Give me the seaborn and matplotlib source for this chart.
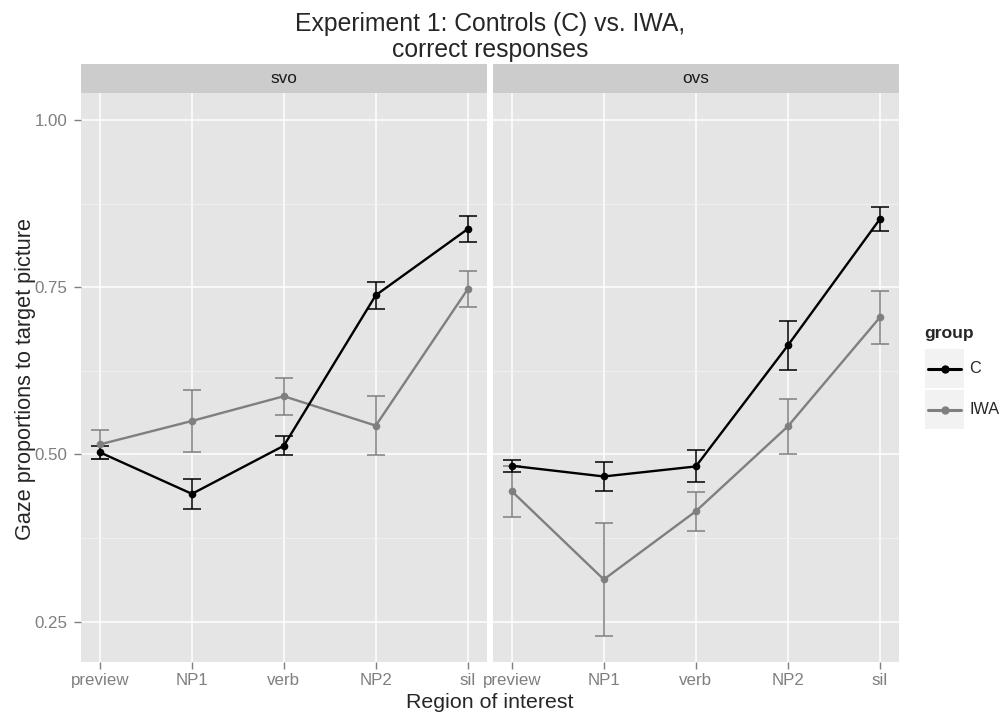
import numpy as np
import pandas as pd
import matplotlib
matplotlib.use("Agg")
import matplotlib.pyplot as plt
import seaborn as sns

# ── data (mean gaze proportion and half error bar)
regions = ["preview", "NP1", "verb", "NP2", "sil"]
conditions = ["svo", "ovs"]
groups = ["C", "IWA"]

svo_c_mean = [0.503, 0.441, 0.513, 0.738, 0.837]
svo_c_se = [0.010, 0.022, 0.014, 0.020, 0.020]
svo_iwa_mean = [0.515, 0.550, 0.587, 0.543, 0.747]
svo_iwa_se = [0.022, 0.047, 0.028, 0.044, 0.027]

ovs_c_mean = [0.483, 0.467, 0.482, 0.663, 0.852]
ovs_c_se = [0.009, 0.022, 0.024, 0.037, 0.018]
ovs_iwa_mean = [0.445, 0.313, 0.415, 0.542, 0.705]
ovs_iwa_se = [0.038, 0.084, 0.029, 0.041, 0.040]

series = {
    ("svo", "C"): (svo_c_mean, svo_c_se),
    ("svo", "IWA"): (svo_iwa_mean, svo_iwa_se),
    ("ovs", "C"): (ovs_c_mean, ovs_c_se),
    ("ovs", "IWA"): (ovs_iwa_mean, ovs_iwa_se),
}

rows = []
for (cond, grp), (means, ses) in series.items():
    for i, (r, m, s) in enumerate(zip(regions, means, ses)):
        rows.append(dict(condition=cond, group=grp, region=r, pos=i, mean=m, se=s))
df = pd.DataFrame(rows)

palette = {"C": "#000000", "IWA": "#7F7F7F"}

sns.set_theme(style="darkgrid")
plt.rcParams["font.family"] = ["Liberation Sans", "DejaVu Sans"]

W, H = 1005, 713
fig = plt.figure(figsize=(W / 100, H / 100), dpi=100)

def fy(py):
    return 1 - py / H

panel_x = [(81, 486.7), (492.7, 899)]
top, bottom, strip_top = 93.3, 661.7, 64

for i, cond in enumerate(conditions):
    x0, x1 = panel_x[i]
    ax = fig.add_axes([x0 / W, fy(bottom), (x1 - x0) / W, (bottom - top) / H])
    sub = df[df["condition"] == cond]

    for g in ["IWA", "C"]:
        d = sub[sub["group"] == g]
        ax.errorbar(d["pos"], d["mean"], yerr=d["se"], fmt="none",
                    ecolor=palette[g], elinewidth=1.1, capsize=6.5, capthick=1.1, zorder=3)
    sns.lineplot(data=sub, x="pos", y="mean", hue="group", hue_order=["IWA", "C"],
                 palette=palette, marker="o", markersize=5.5, markeredgewidth=0,
                 linewidth=1.7, legend=False, ax=ax, zorder=4)

    ax.set_facecolor("#E5E5E5")
    ax.set_xlim(-0.207, 4.207)
    ax.set_ylim(0.19, 1.04)
    ax.set_xticks(range(len(regions)))
    ax.set_xticklabels(regions)
    ax.set_yticks([0.25, 0.50, 0.75, 1.00])
    ax.set_yticklabels(["0.25", "0.50", "0.75", "1.00"])
    ax.set_yticks([0.375, 0.625, 0.875], minor=True)
    ax.grid(which="major", color="white", lw=1.1)
    ax.grid(which="minor", axis="y", color="#F2F2F2", lw=0.6)
    ax.set_axisbelow(True)
    for s in ax.spines.values():
        s.set_visible(False)
    ax.tick_params(which="minor", length=0)
    ax.tick_params(axis="both", which="major", width=1, color="#7F7F7F",
                   labelcolor="#7F7F7F", labelsize=12.2, bottom=True, left=(i == 0),
                   labelleft=(i == 0))
    ax.tick_params(axis="x", length=4.8, pad=3.0)
    ax.tick_params(axis="y", length=5.3, pad=4.3)
    ax.set_xlabel("")
    ax.set_ylabel("")

    # facet strip
    sax = fig.add_axes([x0 / W, fy(top), (x1 - x0) / W, (top - strip_top) / H])
    sax.set_facecolor("#CCCCCC")
    sax.set_xticks([])
    sax.set_yticks([])
    sax.grid(False)
    for s in sax.spines.values():
        s.set_visible(False)
    sax.text(0.5, 0.5, cond, ha="center", va="center", fontsize=12.4, color="#1A1A1A",
             transform=sax.transAxes)

# titles
fig.text(490 / W, fy(31.5), "Experiment 1: Controls (C) vs. IWA,",
         ha="center", va="baseline", fontsize=17.8)
fig.text(490 / W, fy(57.5), "correct responses",
         ha="center", va="baseline", fontsize=17.8)
fig.text(490 / W, fy(708), "Region of interest", ha="center", va="baseline", fontsize=15.4)
fig.text(26 / W, fy(379), "Gaze proportions to target picture", ha="center", va="center",
         rotation=90, fontsize=15.6)

# legend
fig.text(924 / W, fy(338), "group", ha="left", va="baseline", fontsize=12.6, fontweight="bold")
key_tops = {"C": 349, "IWA": 390}
for g in groups:
    kt = key_tops[g]
    kax = fig.add_axes([925 / W, fy(kt + 39), 39 / W, 39 / H])
    kax.set_facecolor("#F2F2F2")
    kax.plot([0.08, 0.5, 0.92], [0.5, 0.5, 0.5], color=palette[g], lw=2.2,
             marker="o", markersize=6, markeredgewidth=0, markevery=[1])
    kax.set_xlim(0, 1)
    kax.set_ylim(0, 1)
    kax.set_xticks([])
    kax.set_yticks([])
    kax.grid(False)
    for s in kax.spines.values():
        s.set_visible(False)
    fig.text(969 / W, fy(kt + 19.5), g, ha="left", va="center", fontsize=11.7)

fig.savefig("out.png", dpi=100)
